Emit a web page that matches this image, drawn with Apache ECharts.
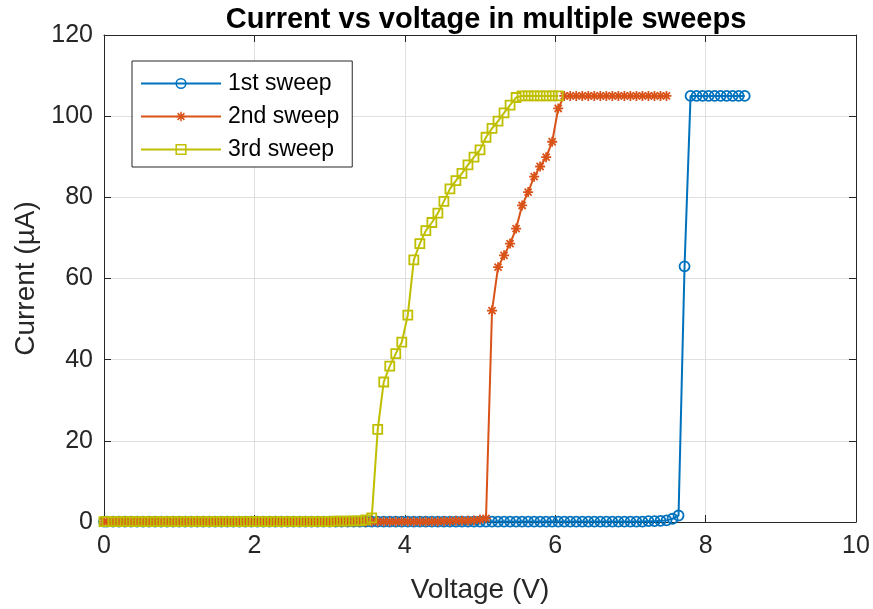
<!DOCTYPE html>
<html>
<head>
<meta charset="utf-8">
<script src="https://cdn.jsdelivr.net/npm/echarts@6/dist/echarts.min.js"></script>
<style>
  html, body { margin: 0; padding: 0; background: #ffffff; }
  #chart { width: 873px; height: 609px; }
</style>
</head>
<body>
<div id="chart"></div>
<script>
// Applied voltage steps (V), shared by all three sweeps
const voltage = [
  0, 0.04, 0.12, 0.20, 0.28, 0.36, 0.44, 0.52, 0.60, 0.68, 0.76, 0.84, 0.92,
  1.00, 1.08, 1.16, 1.24, 1.32, 1.40, 1.48, 1.56, 1.64, 1.72, 1.80, 1.88, 1.96,
  2.04, 2.12, 2.20, 2.28, 2.36, 2.44, 2.52, 2.60, 2.68, 2.76, 2.84, 2.92,
  3.00, 3.08, 3.16, 3.24, 3.32, 3.40, 3.48, 3.56, 3.64, 3.72, 3.80, 3.88, 3.96,
  4.04, 4.12, 4.20, 4.28, 4.36, 4.44, 4.52, 4.60, 4.68, 4.76, 4.84, 4.92,
  5.00, 5.08, 5.16, 5.24, 5.32, 5.40, 5.48, 5.56, 5.64, 5.72, 5.80, 5.88, 5.96,
  6.04, 6.12, 6.20, 6.28, 6.36, 6.44, 6.52, 6.60, 6.68, 6.76, 6.84, 6.92,
  7.00, 7.08, 7.16, 7.24, 7.32, 7.40, 7.48, 7.56, 7.64, 7.72, 7.80, 7.88, 7.96,
  8.04, 8.12, 8.20, 8.28, 8.36, 8.44, 8.52
];

// Measured current (µA) for each sweep
const sweep1Current = [
  0.1, 0.1, 0.1, 0.1, 0.1, 0.1, 0.1, 0.1, 0.1, 0.1,
  0.1, 0.1, 0.1, 0.1, 0.1, 0.1, 0.1, 0.1, 0.1, 0.1,
  0.1, 0.1, 0.1, 0.1, 0.1, 0.1, 0.1, 0.1, 0.1, 0.1,
  0.1, 0.1, 0.1, 0.1, 0.1, 0.1, 0.1, 0.1, 0.1, 0.1,
  0.1, 0.1, 0.1, 0.1, 0.1, 0.1, 0.1, 0.1, 0.1, 0.1,
  0.1, 0.1, 0.1, 0.1, 0.1, 0.1, 0.1, 0.1, 0.1, 0.1,
  0.1, 0.1, 0.1, 0.1, 0.1, 0.1, 0.1, 0.1, 0.1, 0.1,
  0.1, 0.1, 0.1, 0.1, 0.1, 0.1, 0.1, 0.1, 0.1, 0.1,
  0.1, 0.1, 0.1, 0.1, 0.1, 0.1, 0.1, 0.1, 0.1, 0.1,
  0.1, 0.2, 0.2, 0.3,
  0.4, 0.8, 1.6, 63.0,
  105, 105, 105, 105, 105, 105, 105, 105, 105, 105
];
const sweep2Current = [
  0.1, 0.1, 0.1, 0.1, 0.1, 0.1, 0.1, 0.1, 0.1, 0.1,
  0.1, 0.1, 0.1, 0.1, 0.1, 0.1, 0.1, 0.1, 0.1, 0.1,
  0.1, 0.1, 0.1, 0.1, 0.1, 0.1, 0.1, 0.1, 0.1, 0.1,
  0.1, 0.1, 0.1, 0.1, 0.1, 0.1, 0.1, 0.1, 0.1, 0.1,
  0.1, 0.1, 0.1, 0.1, 0.1, 0.1, 0.1, 0.1, 0.1, 0.1,
  0.1, 0.1, 0.1, 0.1, 0.1, 0.1, 0.1, 0.2, 0.2, 0.3,
  0.3, 0.3,
  0.4, 0.6, 0.9,
  52.1, 62.8, 65.7, 68.6, 72.3, 78.0, 81.3, 85.1, 87.6, 89.9, 93.7, 101.9,
  105, 105, 105, 105, 105, 105, 105, 105, 105,
  105, 105, 105, 105, 105, 105, 105, 105, 105
];
const sweep3Current = [
  0.1, 0.1, 0.1, 0.1, 0.1, 0.1, 0.1, 0.1, 0.1, 0.1,
  0.1, 0.1, 0.1, 0.1, 0.1, 0.1, 0.1, 0.1, 0.1, 0.1,
  0.1, 0.1, 0.1, 0.1, 0.1, 0.1, 0.1, 0.1, 0.1, 0.1,
  0.1, 0.1, 0.1, 0.1, 0.1, 0.1, 0.1, 0.1, 0.1, 0.2,
  0.2, 0.2, 0.3, 0.3,
  0.5, 1.0,
  22.8, 34.5, 38.4, 41.5, 44.3, 51.0, 64.6, 68.6, 71.8, 73.8, 76.1, 79.0,
  82.1, 84.1, 85.9, 88.0, 89.9, 91.7, 94.8, 97.0, 98.8, 100.8, 102.7, 104.6,
  105, 105, 105, 105, 105, 105, 105
];

const seriesNames = ['1st sweep', '2nd sweep', '3rd sweep'];
const xTicks = { min: 0, max: 10, step: 2 };
const yTicks = { min: 0, max: 120, step: 20 };

const chartTitle = 'Current vs voltage in multiple sweeps';
const xTitle = 'Voltage (V)';
const yTitle = 'Current (µA)';

const colors = ['#0072BD', '#D95319', '#BFBF00'];
const symbols = [
  'circle',
  'path://M5,0L5,10M0,5L10,5M1.46,1.46L8.54,8.54M1.46,8.54L8.54,1.46',
  'rect'
];
const symbolSizes = [10, 10, 9];
const currents = [sweep1Current, sweep2Current, sweep3Current];

const FONT = '"Liberation Sans", Arial, Helvetica, sans-serif';
const INK = '#262626';

function pairs(current) {
  return current.map((c, i) => [voltage[i], c]);
}

const chart = echarts.init(document.getElementById('chart'), null, { renderer: 'canvas' });

const baseX = {
  type: 'value', min: xTicks.min, max: xTicks.max, interval: xTicks.step,
  axisLine: { show: true, onZero: false, lineStyle: { color: INK, width: 1 } },
  axisTick: { show: true, inside: true, length: 7, lineStyle: { color: INK } }
};
const baseY = {
  type: 'value', min: yTicks.min, max: yTicks.max, interval: yTicks.step,
  axisLine: { show: true, onZero: false, lineStyle: { color: INK, width: 1 } },
  axisTick: { show: true, inside: true, length: 7, lineStyle: { color: INK } }
};

const option = {
  animation: false,
  backgroundColor: '#ffffff',
  title: {
    text: chartTitle,
    left: 481, top: 0, textAlign: 'center',
    textStyle: { fontFamily: FONT, fontWeight: 'bold', fontSize: 29, color: '#000000' }
  },
  legend: {
    orient: 'vertical',
    left: 132, top: 61,
    data: seriesNames,
    itemWidth: 80, itemHeight: 12, itemGap: 10,
    padding: [11, 13, 6, 8],
    backgroundColor: '#ffffff',
    borderColor: INK, borderWidth: 1, borderRadius: 0,
    textStyle: { fontFamily: FONT, fontSize: 23, color: '#000000', padding: [0, 0, 0, 2] },
    itemStyle: { color: 'transparent', borderWidth: 1.5 }
  },
  grid: { left: 104, right: 17, top: 35, bottom: 86, containLabel: false },
  xAxis: [
    Object.assign({}, baseX, {
      position: 'bottom',
      name: xTitle, nameLocation: 'middle', nameGap: 54,
      nameTextStyle: { fontFamily: FONT, fontSize: 28, color: INK },
      axisLabel: { fontFamily: FONT, fontSize: 25, color: INK, margin: 12 },
      splitLine: { show: true, lineStyle: { color: '#DFDFDF', width: 1 } }
    }),
    Object.assign({}, baseX, {
      position: 'top',
      axisLabel: { show: false },
      splitLine: { show: false }
    })
  ],
  yAxis: [
    Object.assign({}, baseY, {
      position: 'left',
      name: yTitle, nameLocation: 'middle', nameGap: 56,
      nameTextStyle: { fontFamily: FONT, fontSize: 28, color: INK },
      axisLabel: { fontFamily: FONT, fontSize: 25, color: INK, margin: 11 },
      splitLine: { show: true, lineStyle: { color: '#DFDFDF', width: 1 } }
    }),
    Object.assign({}, baseY, {
      position: 'right',
      axisLabel: { show: false },
      splitLine: { show: false }
    })
  ],
  series: seriesNames.map((name, k) => ({
    name: name,
    type: 'line',
    xAxisIndex: 0, yAxisIndex: 0,
    data: pairs(currents[k]),
    symbol: symbols[k],
    symbolSize: symbolSizes[k],
    symbolKeepAspect: true,
    showAllSymbol: true,
    lineStyle: { color: colors[k], width: 2 },
    itemStyle: { color: 'transparent', borderColor: colors[k], borderWidth: 1.8 },
    emphasis: { disabled: true }
  }))
};

chart.setOption(option);
</script>
</body>
</html>
